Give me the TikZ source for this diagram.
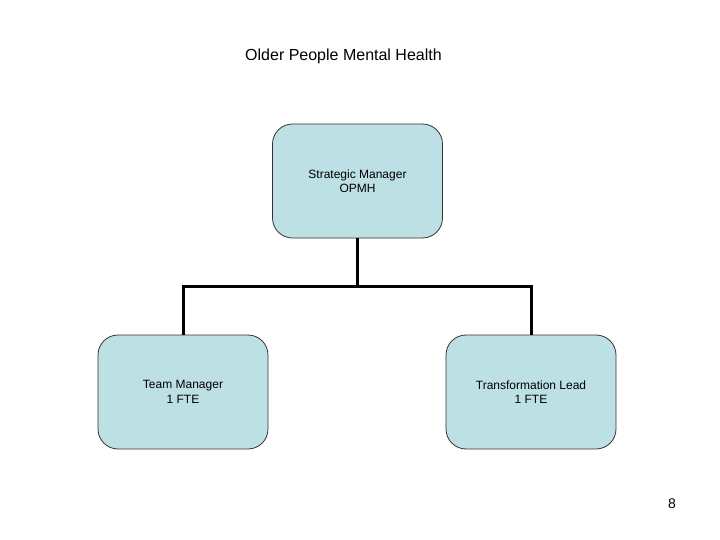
\documentclass[tikz,border=0pt]{standalone}
\usepackage{fontspec}
\setmainfont{Liberation Sans}
\usepackage{xcolor}
\usetikzlibrary{positioning}
\definecolor{boxfill}{RGB}{189,224,228}

\begin{document}
\begin{tikzpicture}[
      x=1pt, y=-1pt,
      type-post/.style={rectangle, rounded corners=20pt, draw=black!80, fill=boxfill, line width=0.8pt,
        minimum width=170pt, minimum height=114pt, align=center, font=\fontsize{12}{14.5}\selectfont},
      type-link/.style={line width=3pt}
    ]
      \useasboundingbox (0,0) rectangle (720,540);
      \node[font=\fontsize{16}{19}\selectfont] (title) at (343.5,56) {Older People Mental Health};
      \node[type-post] (manager) at (357.5,181) {Strategic Manager\\OPMH};
      \node[type-post] (team) at (183,392) {Team Manager\\1 FTE};
      \node[type-post] (lead) at (531,392) {Transformation Lead\\1 FTE};
      \coordinate (split) at (357.5,286);
      \draw[type-link] (manager) -- (split);
      \draw[type-link] (team.north) |- (split) -| (lead.north);
      \node[font=\fontsize{14}{17}\selectfont] (page) at (672,504) {8};
    \end{tikzpicture}
\end{document}
